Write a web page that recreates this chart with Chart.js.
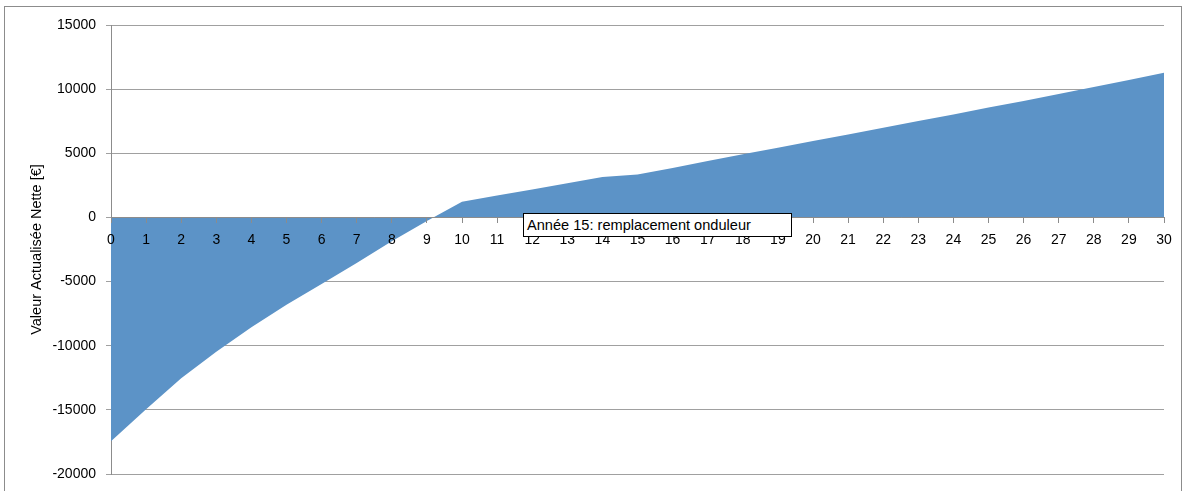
<!DOCTYPE html>
<html lang="fr">
<head>
<meta charset="utf-8">
<script src="https://cdn.jsdelivr.net/npm/chart.js@4.4.1/dist/chart.umd.min.js"></script>
<style>
  html, body { margin: 0; padding: 0; background: #fff; overflow: hidden; }
  #wrap { position: relative; width: 1182px; height: 491px; }
  #frame { position: absolute; left: 4px; top: 6px; width: 1176px; height: 500px; border: 1px solid #8c8c8c; }
  #chart { position: absolute; left: 0; top: 0; }
  #note {
    position: absolute; left: 523px; top: 213px; width: 264px; height: 22px;
    border: 1px solid #000; background: #fff; padding-left: 3px;
    font: 14.6px "Liberation Sans", Arial, sans-serif; line-height: 22px; color: #000;
    white-space: nowrap;
  }
</style>
</head>
<body>
<div id="wrap">
  <div id="frame"></div>
  <canvas id="chart" width="1182" height="491"></canvas>
  <div id="note">Année 15: remplacement onduleur</div>
</div>
<script>
// années (axe x)
const years = ['0', '1', '2', '3', '4', '5', '6', '7', '8', '9', '10',
  '11', '12', '13', '14', '15', '16', '17', '18', '19', '20',
  '21', '22', '23', '24', '25', '26', '27', '28', '29', '30'];

// valeur actualisée nette (€)
const van = [-17450, -14950, -12540, -10470, -8570, -6800, -5180, -3560, -1850, -280, 1220,
  1700, 2180, 2670, 3150, 3350, 3860, 4400, 4920, 5440, 5960,
  6470, 6990, 7510, 8030, 8560, 9080, 9620, 10160, 10710, 11270];

const yMin = -20000;
const yMax = 15000;
const yStep = 5000;

const font = { family: '"Liberation Sans", Arial, sans-serif', size: 14 };

new Chart(document.getElementById('chart'), {
  type: 'line',
  data: {
    labels: years,
    datasets: [{
      data: van,
      fill: 'origin',
      backgroundColor: '#5c93c7',
      borderWidth: 0,
      pointRadius: 0,
      tension: 0
    }]
  },
  options: {
    responsive: false,
    animation: false,
    devicePixelRatio: 1,
    layout: { padding: { left: 0, top: 25, right: 18, bottom: 17 } },
    plugins: {
      legend: { display: false },
      tooltip: { enabled: false }
    },
    scales: {
      x: {
        position: { y: 0 },
        offset: false,
        // axe x dessiné par-dessus la surface
        grid: { drawOnChartArea: false, drawTicks: true, tickLength: 5, color: '#8c8c8c', z: 1 },
        border: { color: '#8c8c8c', z: 1 },
        ticks: { color: '#000', font: font, padding: 9, maxRotation: 0, autoSkip: false, z: 1 }
      },
      y: {
        min: yMin,
        max: yMax,
        afterFit: scale => {
          scale.width = 111;
          // la zone de tracé est fixée par layout.padding
          scale.paddingTop = 0;
          scale.paddingBottom = 0;
        },
        grid: { color: '#a0a0a0', tickLength: 5 },
        border: { color: '#8c8c8c' },
        ticks: {
          stepSize: yStep,
          color: '#000',
          font: font,
          padding: 10,
          callback: v => String(v)
        },
        title: {
          display: true,
          text: 'Valeur Actualisée Nette [€]',
          color: '#000',
          font: { family: font.family, size: 14.5 },
          padding: { top: 28, bottom: 0 }
        }
      }
    }
  }
});
</script>
</body>
</html>
